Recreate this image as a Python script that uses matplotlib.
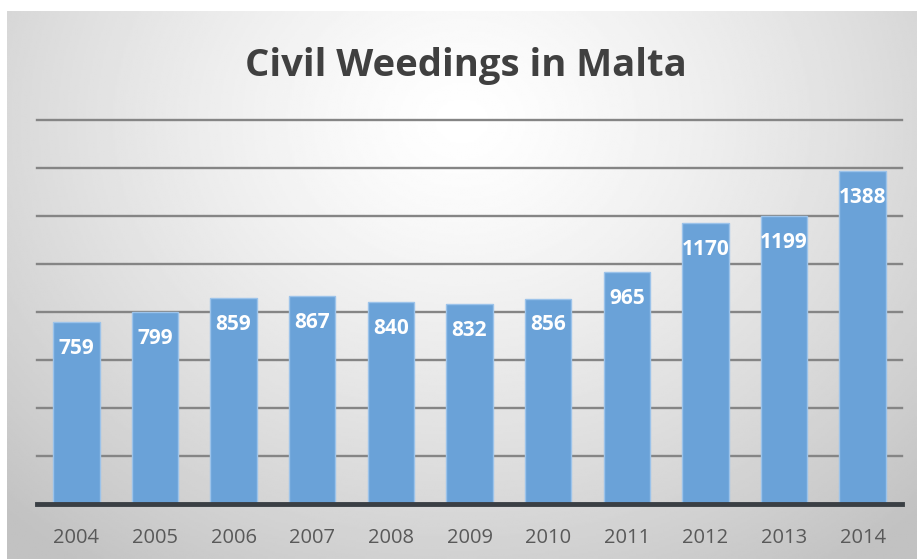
import numpy as np
import matplotlib.pyplot as plt

YEARS = ["2004", "2005", "2006", "2007", "2008", "2009", "2010", "2011", "2012", "2013", "2014"]
WEDDINGS = [759, 799, 859, 867, 840, 832, 856, 965, 1170, 1199, 1388]
TITLE = "Civil Weedings in Malta"

W, H = 917, 559
plt.rcParams["font.family"] = ["Open Sans", "DejaVu Sans"]

fig = plt.figure(figsize=(W / 100, H / 100), dpi=100)
fig.patch.set_facecolor("white")

# radial grey background of the chart area
bg = fig.add_axes([7 / W, 0, 1 - 7 / W, (H - 11) / H])
yy, xx = np.mgrid[0:1:300j, 0:1:500j]
r = np.sqrt(((xx - 0.5) / 0.72) ** 2 + ((yy - 0.2) / 1.0) ** 2)
shade = 1.0 - 0.24 * np.clip(r, 0, 1) ** 1.3
bg.imshow(shade, cmap="gray", vmin=0, vmax=1, aspect="auto", extent=[0, 1, 1, 0])
bg.set_axis_off()

ax = fig.add_axes([37 / W, (H - 504) / H, 865 / W, 384 / H])
ax.set_facecolor("none")
x = np.arange(len(YEARS))
ax.bar(x, WEDDINGS, width=0.59, color="#6aa2d8", edgecolor="#9cc3ea", linewidth=1.0, zorder=3)

ax.set_xlim(-0.5, len(YEARS) - 0.5)
ax.set_ylim(0, 1600)
ax.set_yticks(np.arange(200, 1601, 200))
ax.yaxis.grid(True, color="#858585", linewidth=1.7, zorder=0)
for gl in ax.get_ygridlines():
    gl.set_clip_on(False)
ax.tick_params(axis="y", left=False, labelleft=False)
ax.tick_params(axis="x", bottom=False, labelsize=14.5, labelcolor="#595959", pad=14)
ax.set_xticks(x)
ax.set_xticklabels(YEARS)
for s in ["top", "right", "left"]:
    ax.spines[s].set_visible(False)
ax.spines["bottom"].set_color("#3a3f44")
ax.spines["bottom"].set_linewidth(3.5)
ax.spines["bottom"].set_zorder(4)

for xi, v in zip(x, WEDDINGS):
    ax.annotate(str(v), (xi, v), xytext=(0, -19), textcoords="offset points",
                ha="center", va="center", color="white", fontsize=15,
                fontweight="bold", zorder=5)

fig.text(466 / W, (H - 76) / H, TITLE, ha="center", va="baseline",
         fontsize=27.5, fontweight="bold", color="#404040")

fig.savefig("out.png", dpi=100)
